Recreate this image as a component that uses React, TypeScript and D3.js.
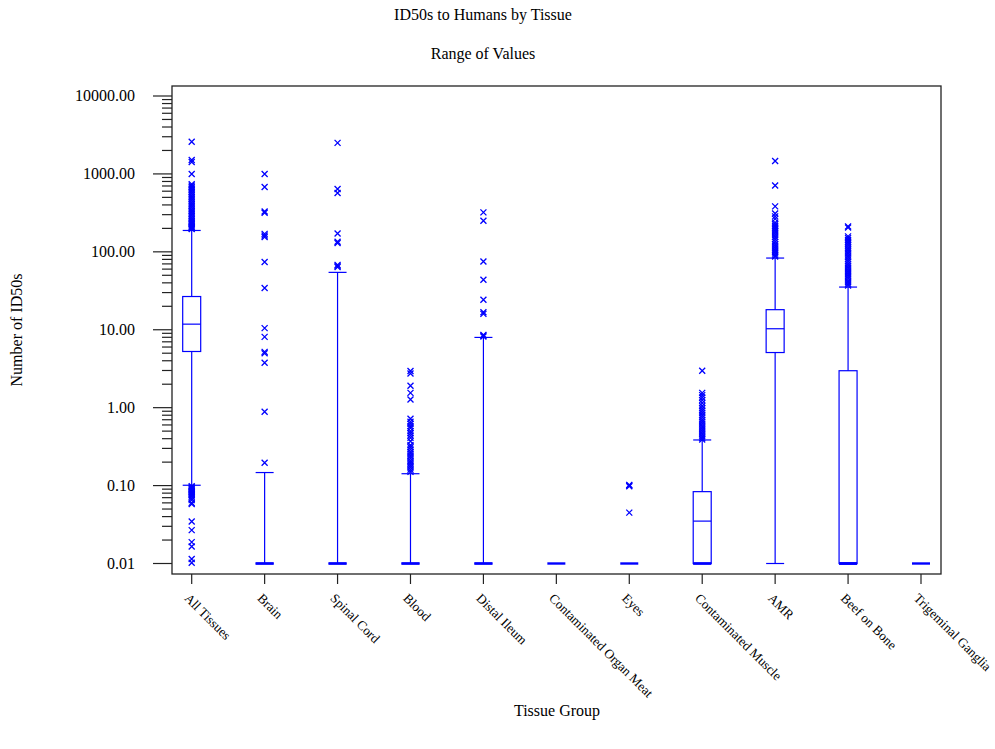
import React from "react";
import * as d3 from "d3";

const categories = [
  "All Tissues", "Brain", "Spinal Cord", "Blood", "Distal Ileum",
  "Contaminated Organ Meat", "Eyes", "Contaminated Muscle", "AMR",
  "Beef on Bone", "Trigeminal Ganglia",
];
const q1 = [5.26, 0.01, 0.01, 0.01, 0.01, 0.01, 0.01, 0.01, 5.1, 0.01, 0.01];
const median = [11.8, 0.01, 0.01, 0.01, 0.01, 0.01, 0.01, 0.035, 10.3, 0.01, 0.01];
const q3 = [26.7, 0.01, 0.01, 0.01, 0.01, 0.01, 0.01, 0.0836, 18.1, 2.98, 0.01];
const whiskerLow = [0.101, 0.01, 0.01, 0.01, 0.01, 0.01, 0.01, 0.01, 0.01, 0.01, 0.01];
const whiskerHigh = [188, 0.147, 54.5, 0.142, 7.97, 0.01, 0.01, 0.385, 83.2, 35.3, 0.01];

const outAllTissues = [
  196, 200, 205, 210, 218, 225, 232, 240, 250, 262, 275, 290, 305, 320, 335, 350,
  370, 390, 410, 430, 455, 480, 505, 530, 560, 590, 620, 650, 680, 710, 740,
  1000, 1420, 1510, 2590,
  0.098, 0.095, 0.092, 0.09, 0.088, 0.086, 0.084, 0.082, 0.08, 0.078, 0.075,
  0.072, 0.068, 0.065, 0.06, 0.058, 0.0346, 0.0268, 0.0188, 0.0165, 0.0114, 0.0102,
];
const outBrain = [1000, 680, 330, 318, 170, 162, 155, 74, 34.3, 10.5, 8.1, 5.2, 5.0, 3.77, 0.885, 0.196];
const outSpinalCord = [2500, 640, 569, 172, 135, 130, 68, 66, 64];
const outBlood = [
  2.95, 2.75, 1.91, 1.55, 1.27, 0.72, 0.66, 0.62, 0.58, 0.547, 0.5, 0.47, 0.44, 0.41,
  0.37, 0.33, 0.31, 0.29, 0.27, 0.255, 0.24, 0.225, 0.21, 0.2, 0.19, 0.18, 0.17, 0.16, 0.15,
];
const outDistalIleum = [321, 251, 75, 43.9, 24.3, 16.8, 16.0, 8.6, 8.4, 8.2];
const outOrganMeat: number[] = [];
const outEyes = [0.102, 0.1, 0.098, 0.045];
const outMuscle = [
  2.98, 1.55, 1.45, 1.35, 1.25, 1.15, 1.05, 0.98, 0.92, 0.86, 0.8, 0.75, 0.7, 0.66,
  0.62, 0.58, 0.55, 0.52, 0.49, 0.46, 0.43, 0.41, 0.39,
];
const outAMR = [
  1466, 711, 383, 310, 285, 265, 237, 225, 215, 205, 195, 185, 175, 165, 155, 145,
  135, 125, 118, 111, 105, 100, 95, 90, 87,
];
const outBeef = [
  212, 205, 158, 150, 142, 135, 128, 121, 114, 108, 102, 96, 90, 85, 80, 75, 70, 66,
  62, 58, 55, 52, 49, 46, 43, 41, 39, 37,
];
const outTrigeminal: number[] = [];
const outliers = [
  outAllTissues, outBrain, outSpinalCord, outBlood, outDistalIleum, outOrganMeat,
  outEyes, outMuscle, outAMR, outBeef, outTrigeminal,
];
const yTickValues = [0.01, 0.1, 1, 10, 100, 1000, 10000];

const W = 995;
const H = 749;
const FONT = "'Liberation Serif', 'Times New Roman', serif";
const BLUE = "#0000ff";

export default function App() {
  const frame = { left: 172, right: 941, top: 86, bottom: 574 };
  const x = d3.scalePoint<string>().domain(categories).range([191.7, 921]);
  const y = d3.scaleLog().domain([0.01, 10000]).range([563.5, 96]);
  const bw = 18;

  const minorTicks: number[] = [];
  for (let e = -2; e < 4; e++) {
    for (let m = 2; m <= 9; m++) minorTicks.push(m * Math.pow(10, e));
  }

  return (
    <svg width={W} height={H} style={{ position: "absolute", left: 0, top: 0, background: "#fff" }}
      fontFamily={FONT}>
      <rect x={0} y={0} width={W} height={H} fill="#fff" />
      <text x={483} y={20} fontSize={16} textAnchor="middle">ID50s to Humans by Tissue</text>
      <text x={483} y={59} fontSize={16} textAnchor="middle">Range of Values</text>
      <text transform={`translate(22,330) rotate(-90)`} fontSize={16} textAnchor="middle">Number of ID50s</text>
      <text x={557} y={716} fontSize={16} textAnchor="middle">Tissue Group</text>

      {/* frame */}
      <rect x={frame.left} y={frame.top} width={frame.right - frame.left}
        height={frame.bottom - frame.top} fill="none" stroke="#222" strokeWidth={1.3} />

      {/* y axis ticks */}
      {yTickValues.map((v) => (
        <g key={"yt" + v}>
          <line x1={153} x2={frame.left} y1={y(v)} y2={y(v)} stroke="#222" strokeWidth={1.2} />
          <text x={135} y={y(v) + 5} fontSize={16} textAnchor="end">{v.toFixed(2)}</text>
        </g>
      ))}
      {minorTicks.map((v) => (
        <line key={"ym" + v} x1={162} x2={frame.left} y1={y(v)} y2={y(v)} stroke="#222" strokeWidth={1.2} />
      ))}

      {/* x axis ticks */}
      {categories.map((c) => (
        <g key={"xt" + c}>
          <line x1={x(c)} x2={x(c)} y1={frame.bottom} y2={frame.bottom + 10} stroke="#222" strokeWidth={1.2} />
          <text transform={`translate(${(x(c) as number) - 8},599) rotate(45)`} fontSize={13.2}>{c}</text>
        </g>
      ))}

      {/* boxes */}
      {categories.map((c, i) => {
        const cx = x(c) as number;
        const flat = q1[i] === q3[i];
        return (
          <g key={"b" + c} stroke={BLUE} fill="none" strokeWidth={1.2}>
            {whiskerHigh[i] > q3[i] && (
              <>
                <line x1={cx} x2={cx} y1={y(q3[i])} y2={y(whiskerHigh[i])} />
                <line x1={cx - bw / 2} x2={cx + bw / 2} y1={y(whiskerHigh[i])} y2={y(whiskerHigh[i])} />
              </>
            )}
            {whiskerLow[i] < q1[i] && (
              <>
                <line x1={cx} x2={cx} y1={y(q1[i])} y2={y(whiskerLow[i])} />
                <line x1={cx - bw / 2} x2={cx + bw / 2} y1={y(whiskerLow[i])} y2={y(whiskerLow[i])} />
              </>
            )}
            {whiskerLow[i] === q1[i] && whiskerHigh[i] > q3[i] && (
              <line x1={cx - bw / 2} x2={cx + bw / 2} y1={y(whiskerLow[i])} y2={y(whiskerLow[i])} strokeWidth={2.2} />
            )}
            {flat ? (
              <line x1={cx - bw / 2} x2={cx + bw / 2} y1={y(q1[i])} y2={y(q1[i])} strokeWidth={2.4} />
            ) : (
              <>
                <rect x={cx - bw / 2} y={y(q3[i])} width={bw} height={y(q1[i]) - y(q3[i])} />
                <line x1={cx - bw / 2} x2={cx + bw / 2} y1={y(median[i])} y2={y(median[i])}
                  strokeWidth={median[i] === q1[i] ? 2.4 : 1.2} />
                {q1[i] === whiskerLow[i] && (
                  <line x1={cx - bw / 2} x2={cx + bw / 2} y1={y(q1[i])} y2={y(q1[i])} strokeWidth={2.4} />
                )}
              </>
            )}
            {outliers[i].map((v, j) => {
              const py = y(v);
              const s = 3;
              return (
                <path key={j} d={`M${cx - s},${py - s}L${cx + s},${py + s}M${cx - s},${py + s}L${cx + s},${py - s}`}
                  strokeWidth={1.3} />
              );
            })}
          </g>
        );
      })}
    </svg>
  );
}
